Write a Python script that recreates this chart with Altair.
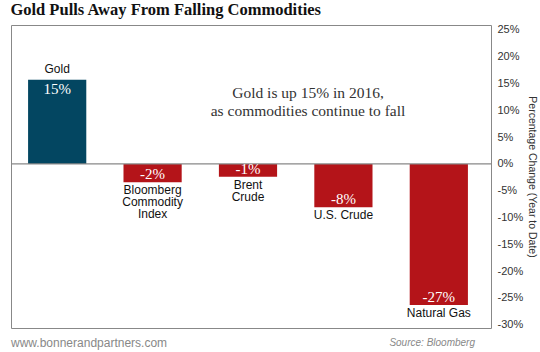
import altair as alt
import pandas as pd

categories = ["Gold", "Bloomberg Commodity Index", "Brent Crude", "U.S. Crude", "Natural Gas"]
cat_labels = ["Gold", "Bloomberg\nCommodity\nIndex", "Brent\nCrude", "U.S. Crude", "Natural Gas"]
values = [15.7, -3.4, -2.4, -8.1, -26.3]
value_labels = ["15%", "-2%", "-1%", "-8%", "-27%"]
y_ticks = [25, 20, 15, 10, 5, 0, -5, -10, -15, -20, -25, -30]

df = pd.DataFrame({
    "cat": categories,
    "catlabel": cat_labels,
    "value": values,
    "vlabel": value_labels,
})

W, H = 480, 303
xscale = alt.Scale(domain=categories, range=[-2, 476], paddingInner=0.39, paddingOuter=0.2)
yscale = alt.Scale(domain=[-30.6, 25.9], nice=False, zero=False)
yaxis = alt.Axis(orient="right", values=y_ticks, labelExpr="datum.value + '%'",
                 grid=False, domain=False, ticks=False, labelPadding=6,
                 labelOverlap=False, labelFlush=False,
                 labelFont="Liberation Sans", labelFontSize=11, labelColor="#333",
                 title="Percentage Change (Year to Date)", titleFont="Liberation Sans",
                 titleFontSize=10.5, titleFontWeight="normal", titleColor="#333",
                 titlePadding=4)

base = alt.Chart(df)
x = alt.X("cat:N", scale=xscale, axis=None, sort=categories)
y = alt.Y("value:Q", scale=yscale, axis=yaxis)

bars = base.mark_bar().encode(
    x=x, y=y, y2=alt.datum(0),
    color=alt.condition("datum.value > 0", alt.value("#034661"), alt.value("#b41419")),
)

zero = alt.Chart(pd.DataFrame({"value": [0]})).mark_rule(color="#888", strokeWidth=1.2).encode(y=y)

pos_cat = base.transform_filter("datum.value > 0").mark_text(
    baseline="bottom", dy=-4, font="Liberation Sans", fontSize=12, color="#111", lineHeight=12
).encode(x=x, y=y, text="catlabel:N")

neg_cat = base.transform_filter("datum.value < 0").transform_calculate(
    lines="split(datum.catlabel, '\\n')"
).mark_text(
    baseline="top", dy=3, font="Liberation Sans", fontSize=12, color="#111", lineHeight=12
).encode(x=x, y=y, text="lines:N")

pos_val = base.transform_filter("datum.value > 0").mark_text(
    baseline="middle", dy=9, font="Liberation Serif", fontSize=15, color="white"
).encode(x=x, y=y, text="vlabel:N")

neg_val = base.transform_filter("datum.value < 0").mark_text(
    baseline="middle", dy=-8, font="Liberation Serif", fontSize=15, color="white"
).encode(x=x, y=y, text="vlabel:N")

note = alt.Chart(pd.DataFrame({"t": [["Gold is up 15% in 2016,", "as commodities continue to fall"]]})).mark_text(
    font="Liberation Serif", fontSize=15.5, color="#333", align="center", baseline="middle", lineHeight=18
).encode(x=alt.value(297), y=alt.value(68), text="t")

footer_l = alt.Chart(pd.DataFrame({"t": ["www.bonnerandpartners.com"]})).mark_text(
    font="Liberation Sans", fontSize=12, color="#888", align="left", baseline="middle"
).encode(x=alt.value(0), y=alt.value(318), text="t:N")

footer_r = alt.Chart(pd.DataFrame({"t": ["Source: Bloomberg"]})).mark_text(
    font="Liberation Sans", fontSize=10, fontStyle="italic", color="#888", align="right", baseline="middle"
).encode(x=alt.value(464), y=alt.value(318), text="t:N")

chart = alt.layer(bars, zero, pos_cat, neg_cat, pos_val, neg_val, note, footer_l, footer_r).properties(
    width=W, height=H,
    autosize=alt.AutoSizeParams(type="none"),
    padding={"left": 11, "top": 25, "right": 49, "bottom": 24},
    title=alt.TitleParams("Gold Pulls Away From Falling Commodities", anchor="start",
                          font="Liberation Serif", fontSize=16.5, fontWeight="bold",
                          color="#111", offset=5),
).configure_view(stroke="#888", strokeWidth=1)

chart.save("out.html", embed_options={"renderer": "svg", "actions": False})
